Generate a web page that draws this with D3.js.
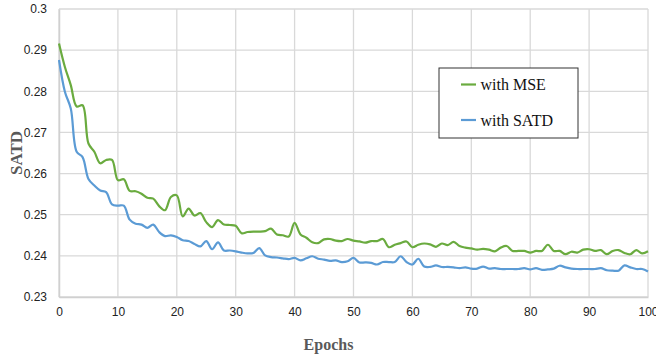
<!DOCTYPE html>
<html>
<head>
<meta charset="utf-8">
<script src="https://cdn.jsdelivr.net/npm/d3@7"></script>
<style>
  body { margin: 0; background: #fff; }
  svg { display: block; font-family: "Liberation Serif", "Times New Roman", serif; }
  .axis_text { font-size: 12px; fill: #222; }
</style>
</head>
<body>
<script>
var epochs = d3.range(0, 101);

var mseLoss = [
  0.2916, 0.2859, 0.2815, 0.2763, 0.2766, 0.2673, 0.2653, 0.2625, 0.2633, 0.2633,
  0.2584, 0.2586, 0.2558, 0.2557, 0.2551, 0.2541, 0.2539, 0.2521, 0.2511, 0.2543,
  0.2547, 0.2496, 0.2515, 0.2498, 0.2504, 0.2482, 0.2470, 0.2487, 0.2476, 0.2475,
  0.2473, 0.2455, 0.2458, 0.2459, 0.2459, 0.2460, 0.2466, 0.2452, 0.2450, 0.2447,
  0.2480, 0.2452, 0.2444, 0.2433, 0.2431, 0.2440, 0.2441, 0.2437, 0.2436, 0.2441,
  0.2437, 0.2435, 0.2432, 0.2436, 0.2436, 0.2441, 0.2421, 0.2427, 0.2431, 0.2435,
  0.2421, 0.2427, 0.2430, 0.2428, 0.2422, 0.2430, 0.2426, 0.2434, 0.2424, 0.2420,
  0.2418, 0.2415, 0.2417, 0.2415, 0.2411, 0.2420, 0.2424, 0.2412, 0.2412, 0.2412,
  0.2408, 0.2412, 0.2412, 0.2427, 0.2412, 0.2412, 0.2404, 0.2410, 0.2408, 0.2415,
  0.2416, 0.2412, 0.2414, 0.2404, 0.2412, 0.2414, 0.2407, 0.2404, 0.2414, 0.2406,
  0.2411
];

var satdLoss = [
  0.2876, 0.2799, 0.2758, 0.2653, 0.2640, 0.2587, 0.2571, 0.2559, 0.2555, 0.2525,
  0.2522, 0.2522, 0.2488, 0.2478, 0.2476, 0.2468, 0.2476, 0.2458, 0.2448, 0.2450,
  0.2446, 0.2438, 0.2436, 0.2429, 0.2423, 0.2436, 0.2416, 0.2433, 0.2413, 0.2413,
  0.2411, 0.2408, 0.2406, 0.2407, 0.2419, 0.2401, 0.2397, 0.2396, 0.2394, 0.2392,
  0.2395, 0.2389, 0.2394, 0.2399, 0.2393, 0.2391, 0.2388, 0.2389, 0.2385, 0.2387,
  0.2395, 0.2384, 0.2384, 0.2383, 0.2379, 0.2385, 0.2385, 0.2385, 0.2399, 0.2385,
  0.2379, 0.2393, 0.2374, 0.2373, 0.2377, 0.2373, 0.2373, 0.2372, 0.2370, 0.2372,
  0.2369, 0.2369, 0.2374, 0.2369, 0.2370, 0.2368, 0.2368, 0.2368, 0.2368, 0.2370,
  0.2367, 0.2370, 0.2366, 0.2367, 0.2369, 0.2376, 0.2372, 0.2369, 0.2368, 0.2368,
  0.2368, 0.2368, 0.2370, 0.2365, 0.2364, 0.2364, 0.2377, 0.2372, 0.2368, 0.2368,
  0.2362
];

var xTicks = [0, 10, 20, 30, 40, 50, 60, 70, 80, 90, 100];
var yTicks = [0.23, 0.24, 0.25, 0.26, 0.27, 0.28, 0.29, 0.3];

var seriesNames = ["with MSE", "with SATD"];
var seriesColors = ["#6AAB3F", "#5B9BD5"];

var w = 656;
var h = 360;
var margin = { top: 9, right: 8, bottom: 63, left: 59 };
var width = w - margin.left - margin.right;
var height = h - margin.top - margin.bottom;

var root = d3.select("body")
  .append("svg")
  .attr("width", w)
  .attr("height", h);

var svg = root.append("g")
  .attr("transform", `translate(${margin.left},${margin.top})`);

// scales
var x = d3.scaleLinear().domain([0, 100]).range([0, width]);
var y = d3.scaleLinear().domain([0.23, 0.3]).range([height, 0]);

// gridlines
svg.append("g")
  .selectAll("line")
  .data(yTicks)
  .enter()
  .append("line")
  .attr("x1", 0).attr("x2", width)
  .attr("y1", d => y(d)).attr("y2", d => y(d))
  .attr("stroke", "#D9D9D9")
  .attr("stroke-width", 1.3);

svg.append("g")
  .selectAll("line")
  .data(xTicks)
  .enter()
  .append("line")
  .attr("x1", d => x(d)).attr("x2", d => x(d))
  .attr("y1", 0).attr("y2", height)
  .attr("stroke", "#D9D9D9")
  .attr("stroke-width", 1.3);

// axes
var xAxis = svg.append("g")
  .attr("transform", `translate(0,${height})`)
  .call(d3.axisBottom(x).tickValues(xTicks).tickSize(0).tickPadding(10).tickFormat(d3.format("d")));
xAxis.select(".domain").attr("stroke", "#D0D0D0").attr("stroke-width", 1.5);
xAxis.selectAll("text").attr("class", "axis_text").attr("font-family", null).attr("font-size", null);

var yAxis = svg.append("g")
  .call(d3.axisLeft(y).tickValues(yTicks).tickSize(0).tickPadding(12).tickFormat(d => d3.format("")(+d.toFixed(2))));
yAxis.select(".domain").attr("stroke", "#D0D0D0").attr("stroke-width", 1.5);
yAxis.selectAll("text").attr("class", "axis_text").attr("font-family", null).attr("font-size", null);

// lines
var line = d3.line()
  .x((d, i) => x(epochs[i]))
  .y(d => y(d))
  .curve(d3.curveCatmullRom);

[mseLoss, satdLoss].forEach(function (vals, i) {
  svg.append("path")
    .datum(vals)
    .attr("fill", "none")
    .attr("stroke", seriesColors[i])
    .attr("stroke-width", 2.2)
    .attr("stroke-linejoin", "round")
    .attr("d", line);
});

// axis titles
root.append("text")
  .attr("x", margin.left + x(50) - 25)
  .attr("y", 350)
  .attr("text-anchor", "middle")
  .attr("font-size", "16px")
  .attr("font-weight", "bold")
  .attr("fill", "#595959")
  .text("Epochs");

root.append("text")
  .attr("transform", `translate(22,${margin.top + height / 2}) rotate(-90)`)
  .attr("text-anchor", "middle")
  .attr("font-size", "17px")
  .attr("font-weight", "bold")
  .attr("fill", "#595959")
  .text("SATD");

// legend
var legend = root.append("g").attr("transform", "translate(439,68)");
legend.append("rect")
  .attr("width", 139).attr("height", 70)
  .attr("fill", "#fff")
  .attr("stroke", "#333")
  .attr("stroke-width", 1);

var items = legend.selectAll(".item")
  .data(seriesNames)
  .enter()
  .append("g")
  .attr("transform", (d, i) => `translate(0,${16.5 + i * 35.5})`);

items.append("line")
  .attr("x1", 22).attr("x2", 37)
  .attr("y1", 0).attr("y2", 0)
  .attr("stroke", (d, i) => seriesColors[i])
  .attr("stroke-width", 2.2);

items.append("text")
  .attr("x", 41.5)
  .attr("y", 0)
  .attr("dy", "0.35em")
  .attr("font-size", "16px")
  .attr("fill", "#111")
  .text(d => d);
</script>
</body>
</html>
